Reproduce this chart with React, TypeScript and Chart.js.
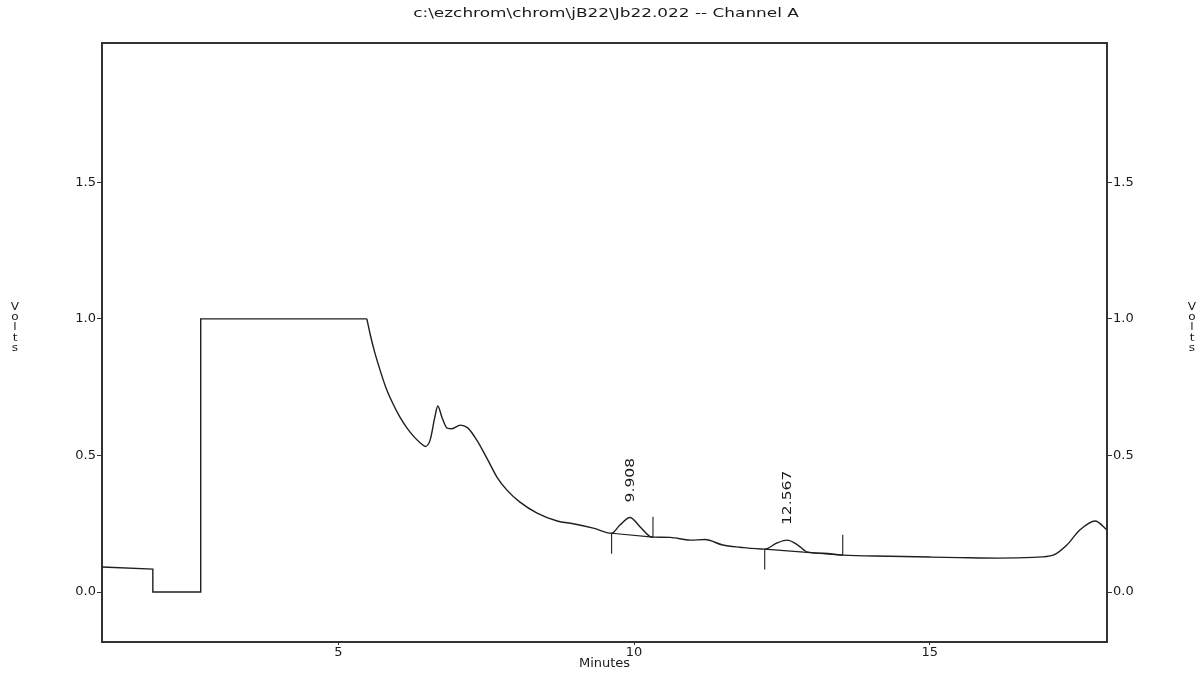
import React, { useEffect, useRef } from "react";
import { Chart, registerables } from "chart.js";

Chart.register(...registerables);

const TITLE = "c:\\ezchrom\\chrom\\jB22\\Jb22.022 -- Channel A";
const X_LABEL = "Minutes";
const Y_LABEL = "Volts";

const X_MIN = 1;
const X_MAX = 18;
const Y_MIN = -0.183;
const Y_MAX = 2.01;
const X_TICKS = [5, 10, 15];
const Y_TICKS = [0, 0.5, 1.0, 1.5];

// step part of the trace (before the solvent front)
const stepTimes = [1.0, 1.86, 1.86, 2.67, 2.67, 5.48];
const stepVolts = [0.0915, 0.084, 0.0, 0.0, 1.0, 1.0];

// smooth part of the trace
const traceTimes = [
  5.48, 5.54, 5.61, 5.7, 5.8, 5.92, 6.04, 6.16, 6.28, 6.4, 6.47, 6.55, 6.63,
  6.68, 6.75, 6.84, 6.92, 7.06, 7.19, 7.34, 7.51, 7.68, 7.85, 8.07, 8.36, 8.7,
  8.97, 9.31, 9.62, 9.76, 9.93, 10.1, 10.27, 10.32, 10.61, 10.95, 11.2, 11.5,
  11.79, 12.21, 12.42, 12.59, 12.77, 12.94, 13.2, 13.53, 14.33, 15.0, 15.5,
  16.19, 16.75, 17.09, 17.32, 17.54, 17.8, 18.0,
];
const traceVolts = [
  1.0, 0.94, 0.88, 0.815, 0.75, 0.69, 0.64, 0.6, 0.568, 0.543, 0.533, 0.556,
  0.64, 0.681, 0.64, 0.6, 0.598, 0.611, 0.6, 0.556, 0.49, 0.421, 0.373, 0.329,
  0.289, 0.26, 0.25, 0.234, 0.215, 0.245, 0.273, 0.239, 0.203, 0.201, 0.2,
  0.19, 0.192, 0.172, 0.164, 0.157, 0.18, 0.19, 0.172, 0.146, 0.142, 0.135,
  0.131, 0.128, 0.126, 0.124, 0.127, 0.135, 0.172, 0.227, 0.26, 0.227,
];

// integrated peaks
const peakLabels = ["9.908", "12.567"];
const peakTimes = [9.908, 12.567];
const peakHeights = [0.273, 0.19];
const peakStartTimes = [9.62, 12.21];
const peakStartVolts = [0.215, 0.157];
const peakEndTimes = [10.32, 13.53];
const peakEndVolts = [0.201, 0.135];
const MARK_LEN = 0.075;

const TEXT_FONT = '"DejaVu Sans", "Liberation Sans", sans-serif';
const INK = "#1a1a1a";
const LINE = "#1f1f1f";

function stretchedText(
  ctx: CanvasRenderingContext2D,
  text: string,
  x: number,
  y: number,
  sx: number,
  size: number,
  rotate = 0,
  align: CanvasTextAlign = "center"
) {
  ctx.save();
  ctx.translate(x, y);
  if (rotate) ctx.rotate(rotate);
  ctx.scale(sx, 1);
  ctx.font = `${size}px ${TEXT_FONT}`;
  ctx.fillStyle = INK;
  ctx.textAlign = align;
  ctx.textBaseline = "middle";
  ctx.fillText(text, 0, 0);
  ctx.restore();
}

const decorPlugin = {
  id: "decor",
  afterDraw(chart: any) {
    const { ctx, chartArea: a, scales } = chart;
    const xs = scales.x;
    const ys = scales.y;
    ctx.save();
    // frame top line
    ctx.strokeStyle = "#333333";
    ctx.lineWidth = 2;
    ctx.beginPath();
    ctx.moveTo(a.left, a.top);
    ctx.lineTo(a.right, a.top);
    ctx.stroke();
    ctx.restore();

    // title
    stretchedText(ctx, TITLE, 606, 14, 1.3, 13);

    // stacked "Volts" labels on both sides
    const letters = Y_LABEL.split("");
    letters.forEach((ch, i) => {
      const y = 307 + i * 10.3;
      stretchedText(ctx, ch, 15, y, 1.1, 11);
      stretchedText(ctx, ch, 1192, y, 1.1, 11);
    });

    // peak retention time labels (rotated)
    peakLabels.forEach((lab, i) => {
      const px = xs.getPixelForValue(peakTimes[i]) + 2;
      const py = ys.getPixelForValue(peakHeights[i]) - 15;
      stretchedText(ctx, lab, px, py, 1.3, 12, -Math.PI / 2, "left");
    });
  },
};

function buildMarks() {
  const pts: { x: number; y: number | null }[] = [];
  for (let i = 0; i < peakStartTimes.length; i++) {
    // baseline under the peak
    pts.push({ x: peakStartTimes[i], y: peakStartVolts[i] });
    pts.push({ x: peakEndTimes[i], y: peakEndVolts[i] });
    pts.push({ x: peakEndTimes[i], y: null });
    // start mark (downwards)
    pts.push({ x: peakStartTimes[i], y: peakStartVolts[i] });
    pts.push({ x: peakStartTimes[i], y: peakStartVolts[i] - MARK_LEN });
    pts.push({ x: peakStartTimes[i], y: null });
    // end mark (upwards)
    pts.push({ x: peakEndTimes[i], y: peakEndVolts[i] });
    pts.push({ x: peakEndTimes[i], y: peakEndVolts[i] + MARK_LEN });
    pts.push({ x: peakEndTimes[i], y: null });
  }
  return pts;
}

export default function App() {
  const ref = useRef<HTMLCanvasElement | null>(null);

  useEffect(() => {
    if (!ref.current) return;
    const tickFont = { family: TEXT_FONT, size: 13 };
    const yAxisCommon = {
      type: "linear" as const,
      min: Y_MIN,
      max: Y_MAX,
      afterBuildTicks: (s: any) => {
        s.ticks = Y_TICKS.map((v) => ({ value: v }));
      },
      ticks: {
        font: tickFont,
        color: INK,
        padding: 1,
        callback: (v: any) => Number(v).toFixed(1),
      },
      grid: { drawOnChartArea: false, tickLength: 5, color: "#333333", lineWidth: 1 },
      border: { color: "#333333", width: 2 },
    };

    const chart = new Chart(ref.current, {
      type: "line",
      data: {
        datasets: [
          {
            label: "step",
            data: stepTimes.map((t, i) => ({ x: t, y: stepVolts[i] })),
            borderColor: LINE,
            borderWidth: 1.4,
            pointRadius: 0,
            tension: 0,
            yAxisID: "y",
          },
          {
            label: "trace",
            data: traceTimes.map((t, i) => ({ x: t, y: traceVolts[i] })),
            borderColor: LINE,
            borderWidth: 1.4,
            pointRadius: 0,
            cubicInterpolationMode: "monotone",
            yAxisID: "y",
          },
          {
            label: "marks",
            data: buildMarks() as any,
            borderColor: LINE,
            borderWidth: 1.1,
            pointRadius: 0,
            tension: 0,
            spanGaps: false,
            yAxisID: "y",
          },
        ],
      },
      options: {
        responsive: false,
        animation: false,
        layout: { padding: { top: 43, left: 0, right: 0, bottom: 0 } },
        plugins: {
          legend: { display: false },
          tooltip: { enabled: false },
          title: { display: false },
        },
        scales: {
          x: {
            type: "linear",
            min: X_MIN,
            max: X_MAX,
            afterBuildTicks: (s: any) => {
              s.ticks = X_TICKS.map((v) => ({ value: v }));
            },
            ticks: { font: tickFont, color: INK, padding: 0, maxRotation: 0 },
            grid: { drawOnChartArea: false, tickLength: 3, color: "#333333" },
            border: { color: "#333333", width: 2 },
            title: {
              display: true,
              text: X_LABEL,
              font: { family: TEXT_FONT, size: 13 },
              color: INK,
              padding: { top: 0, bottom: 2 },
            },
            afterFit: (s: any) => {
              s.height = 31;
            },
          },
          y: {
            ...yAxisCommon,
            position: "left",
            afterFit: (s: any) => {
              s.width = 102;
            },
          },
          y2: {
            ...yAxisCommon,
            position: "right",
            afterFit: (s: any) => {
              s.width = 94;
            },
          },
        },
      } as any,
      plugins: [decorPlugin],
    });
    return () => chart.destroy();
  }, []);

  return (
    <div
      style={{
        position: "fixed",
        left: 0,
        top: 0,
        width: 1201,
        height: 673,
        background: "#ffffff",
      }}
    >
      <canvas ref={ref} width={1201} height={673} style={{ display: "block" }} />
    </div>
  );
}
